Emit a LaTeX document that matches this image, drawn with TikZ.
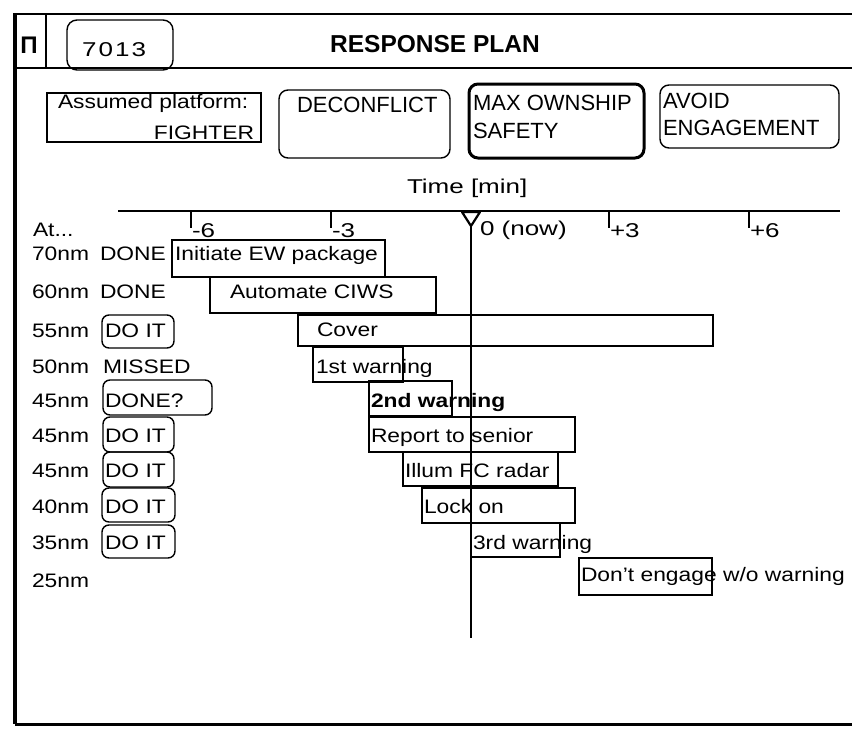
\documentclass[tikz,border=0pt]{standalone}
\usepackage{fontspec}
\setmainfont{Liberation Sans}[FakeStretch=1.17]
\newfontfamily\plainsf{Liberation Sans}
\newfontfamily\geofont{Liberation Sans}[FakeStretch=1.3]
\newfontfamily\geospfont{Liberation Sans}[FakeStretch=1.3,LetterSpace=10]
\begin{document}
\begin{tikzpicture}[x=1pt,y=-1pt,
  boxline/.style={draw, line width=1.4pt, inner sep=0pt, outer sep=0pt, anchor=north west},
  taskbox/.style={boxline},
  statusbox/.style={boxline, rounded corners=7pt},
  topbox/.style={boxline, rounded corners=9pt},
  txt/.style={anchor=base west, inner sep=0pt, outer sep=0pt, font=\fontsize{19.5}{22}\selectfont},
  toptxt/.style={anchor=base west, inner sep=0pt, outer sep=0pt, font=\plainsf\fontsize{22}{24}\selectfont},
  geotxt/.style={anchor=base west, inner sep=0pt, outer sep=0pt, font=\geofont\fontsize{20}{22}\selectfont},
  frameline/.style={line width=1.5pt},
  tickline/.style={line width=1.2pt}
]
\useasboundingbox (0,0) rectangle (852,729);
% ---------- frame ----------
\coordinate (ftl) at (13,14);
\coordinate (ftr) at (852,14);
\coordinate (fsl) at (15,68);
\coordinate (fsr) at (852,68);
\coordinate (fbl) at (15,724);
\coordinate (fbr) at (852,724);
\coordinate (flt) at (15,14);
\coordinate (hdt) at (46,14);
\coordinate (hdb) at (46,68);
\draw[frameline] (ftl) -- (ftr);
\draw[line width=2pt] (fsl) -- (fsr);
\draw[line width=3.5pt] (flt) -- (fbl);
\draw[line width=3pt] (fbl) -- (fbr);
\draw[line width=1.3pt] (hdt) -- (hdb);
% ---------- header ----------
\node[inner sep=0pt, font=\plainsf\bfseries\fontsize{24}{24}\selectfont] (pi) at (29,45) {Π};
\node[topbox, minimum width=106pt, minimum height=50pt, rounded corners=10pt] (idbox) at (67,20) {};
\node[anchor=base west, inner sep=0pt, font=\geospfont\fontsize{20}{22}\selectfont] (idtxt) at (82,56) {7013};
\node[inner sep=0pt, font=\plainsf\bfseries\fontsize{24.5}{26}\selectfont] (title) at (435,44) {RESPONSE PLAN};
% ---------- top boxes ----------
\node[taskbox, minimum width=214pt, minimum height=49pt] (asbox) at (47,93) {};
\node[txt] (as1) at (58,108) {Assumed platform:};
\node[txt, anchor=base east] (as2) at (254,139) {FIGHTER};
\node[topbox, minimum width=171pt, minimum height=68pt] (dcbox) at (279,90) {};
\node[toptxt] (dctxt) at (297,112) {DECONFLICT};
\node[topbox, line width=3pt, minimum width=175pt, minimum height=74pt] (mxbox) at (469,84) {};
\node[toptxt] (mx1) at (473,110) {MAX OWNSHIP};
\node[toptxt] (mx2) at (473,138) {SAFETY};
\node[topbox, minimum width=179pt, minimum height=63pt] (avbox) at (660,85) {};
\node[toptxt] (av1) at (663,108) {AVOID};
\node[toptxt] (av2) at (663,135) {ENGAGEMENT};
% ---------- time axis ----------
\node[geotxt] (timelbl) at (407,193) {Time [min]};
\coordinate (axL) at (118,211);
\coordinate (axR) at (840,211);
\draw[line width=1.3pt] (axL) -- (axR);
\foreach \tx/\tl/\tn in {191/-6/m6, 331/-3/m3, 609/+3/p3, 749/+6/p6}{
  \coordinate (tk\tn a) at (\tx,211);
  \coordinate (tk\tn b) at (\tx,228);
  \draw[tickline] (tk\tn a) -- (tk\tn b);
  \node[geotxt] (tl\tn) at (\tx+1,237) {\tl};
}
\node[geotxt] (nowlbl) at (480,235) {0 (now)};
\coordinate (triA) at (462,212);
\coordinate (triB) at (480,212);
\coordinate (triC) at (471,226);
\draw[line width=2.2pt, line join=round] (triA) -- (triB) -- (triC) -- cycle;
\coordinate (nowbot) at (471,638);
\draw[line width=1.3pt] (triC) -- (nowbot);
% ---------- row labels ----------
\node[txt] (atlbl) at (33,236) {At...};
\node[txt] (r1) at (32,260) {70nm};
\node[txt] (r2) at (32,298) {60nm};
\node[txt] (r3) at (32,337) {55nm};
\node[txt] (r4) at (32,373) {50nm};
\node[txt] (r5) at (32,407) {45nm};
\node[txt] (r6) at (32,442) {45nm};
\node[txt] (r7) at (32,477) {45nm};
\node[txt] (r8) at (32,513) {40nm};
\node[txt] (r9) at (32,549) {35nm};
\node[txt] (r10) at (32,587) {25nm};
% ---------- status ----------
\node[txt] (st1) at (100,260) {DONE};
\node[txt] (st2) at (100,298) {DONE};
\node[statusbox, minimum width=72pt, minimum height=33pt] (sb3) at (102,315) {};
\node[txt] (st3) at (105,337) {DO IT};
\node[txt] (st4) at (103,373) {MISSED};
\node[statusbox, minimum width=109pt, minimum height=35pt] (sb5) at (103,380) {};
\node[txt] (st5) at (105,407) {DONE?};
\node[statusbox, minimum width=71pt, minimum height=35pt] (sb6) at (103,417) {};
\node[txt] (st6) at (105,442) {DO IT};
\node[statusbox, minimum width=71pt, minimum height=35pt] (sb7) at (103,452) {};
\node[txt] (st7) at (105,477) {DO IT};
\node[statusbox, minimum width=73pt, minimum height=34pt] (sb8) at (102,488) {};
\node[txt] (st8) at (105,513) {DO IT};
\node[statusbox, minimum width=73pt, minimum height=33pt] (sb9) at (102,525) {};
\node[txt] (st9) at (105,549) {DO IT};
% ---------- tasks ----------
\node[taskbox, minimum width=213pt, minimum height=37pt] (tb1) at (172,240) {};
\node[txt] (tt1) at (175,260) {Initiate EW package};
\node[taskbox, minimum width=226pt, minimum height=36pt] (tb2) at (210,277) {};
\node[txt] (tt2) at (230,298) {Automate CIWS};
\node[taskbox, minimum width=415pt, minimum height=31pt] (tb3) at (298,315) {};
\node[txt] (tt3) at (317,336) {Cover};
\node[taskbox, minimum width=90pt, minimum height=35pt] (tb4) at (313,347) {};
\node[txt] (tt4) at (316,373) {1st warning};
\node[taskbox, minimum width=83pt, minimum height=35pt] (tb5) at (369,381) {};
\node[txt, font=\bfseries\fontsize{19.5}{22}\selectfont] (tt5) at (371,407) {2nd warning};
\node[taskbox, minimum width=206pt, minimum height=35pt] (tb6) at (369,417) {};
\node[txt] (tt6) at (371,442) {Report to senior};
\node[taskbox, minimum width=155pt, minimum height=34pt] (tb7) at (403,452) {};
\node[txt] (tt7) at (405,477) {Illum FC radar};
\node[taskbox, minimum width=153pt, minimum height=35pt] (tb8) at (422,488) {};
\node[txt] (tt8) at (424,513) {Lock on};
\node[taskbox, minimum width=89pt, minimum height=34pt] (tb9) at (471,523) {};
\node[txt] (tt9) at (473,549) {3rd warning};
\node[taskbox, minimum width=133pt, minimum height=37pt] (tb10) at (579,558) {};
\node[txt] (tt10) at (581,581) {Don't engage w/o warning};
\end{tikzpicture}
\end{document}
